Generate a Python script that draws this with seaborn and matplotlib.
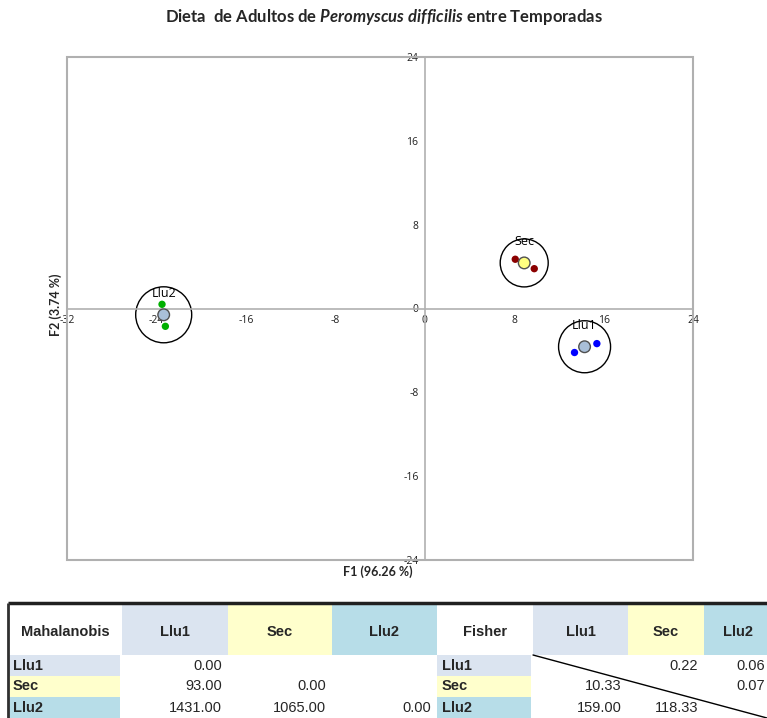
import numpy as np
import pandas as pd
import matplotlib
matplotlib.use("Agg")
import matplotlib.pyplot as plt
from matplotlib.patches import Ellipse, Rectangle
import seaborn as sns

# ---------------- data ----------------
groups = ["Llu1", "Sec", "Llu2"]
obs_group = ["Llu1", "Llu1", "Sec", "Sec", "Llu2", "Llu2"]
obs_f1 = [13.4, 15.4, 8.1, 9.8, -23.5, -23.2]
obs_f2 = [-4.2, -3.35, 4.7, 3.8, 0.4, -1.7]
cent_f1 = [14.3, 8.9, -23.35]
cent_f2 = [-3.65, 4.35, -0.6]
circle_radius_px = [26, 24, 28]
obs_colors = {"Llu1": "#0000ff", "Sec": "#8b0000", "Llu2": "#00b000"}
cent_colors = {"Llu1": "#a9bfd8", "Sec": "#ffff80", "Llu2": "#a9bfd8"}
ticks = [-32, -24, -16, -8, 0, 8, 16, 24]
yticks = [-24, -16, -8, 0, 8, 16, 24]

table_cols = ["Llu1", "Sec", "Llu2"]
mahal = [["0.00", "", ""],
         ["93.00", "0.00", ""],
         ["1431.00", "1065.00", "0.00"]]
fisher = [["", "0.22", "0.06"],
          ["10.33", "", "0.07"],
          ["159.00", "118.33", ""]]
group_bg = {"Llu1": "#dbe4f0", "Sec": "#ffffcc", "Llu2": "#b7dde8"}

# ---------------- figure ----------------
sns.set_style("white")
plt.rcParams["font.family"] = ["Lato", "DejaVu Sans"]
plt.rcParams["mathtext.fontset"] = "custom"
plt.rcParams["mathtext.it"] = "Lato:italic:bold"
plt.rcParams["mathtext.rm"] = "Lato:bold"

W, H = 767, 718
fig = plt.figure(figsize=(W / 100, H / 100), dpi=100)
ax = fig.add_axes([67 / W, 1 - 560 / H, (693 - 67) / W, (560 - 57) / H])
ax.set_xlim(-32, 24)
ax.set_ylim(-24, 24)

obs = pd.DataFrame({"F1": obs_f1, "F2": obs_f2, "g": obs_group})
cen = pd.DataFrame({"F1": cent_f1, "F2": cent_f2, "g": groups})

# confidence circles
sx = 626 / 56.0
sy = 503 / 48.0
for gx, gy, r in zip(cent_f1, cent_f2, circle_radius_px):
    ax.add_patch(Ellipse((gx, gy), 2 * r / sx, 2 * r / sy, fill=False,
                         edgecolor="black", lw=1.0, zorder=2))

sns.scatterplot(data=obs, x="F1", y="F2", hue="g", palette=obs_colors,
                s=28, edgecolor="none", legend=False, ax=ax, zorder=3)
sns.scatterplot(data=cen, x="F1", y="F2", hue="g", palette=cent_colors,
                s=70, edgecolor="#505050", linewidth=1.0, legend=False,
                ax=ax, zorder=4)

for gname, gx, gy in zip(groups, cent_f1, cent_f2):
    ax.annotate(gname, (gx, gy), xytext=(0, 15.5), textcoords="offset points",
                ha="center", va="center", fontsize=9, color="black",
                family=["Open Sans", "DejaVu Sans"], zorder=5)

# axes through origin
for side in ["left", "bottom"]:
    ax.spines[side].set_position(("data", 0))
    ax.spines[side].set_color("#b0b0b0")
    ax.spines[side].set_linewidth(1.2)
for side in ["top", "right"]:
    ax.spines[side].set_visible(False)
ax.add_patch(Rectangle((0, 0), 1, 1, transform=ax.transAxes, fill=False,
                       edgecolor="#b0b0b0", lw=1.5, zorder=1, clip_on=False))
ax.set_xticks(ticks)
ax.set_yticks(yticks)
ax.set_xticklabels([str(t) for t in ticks])
ax.set_yticklabels([str(t) for t in yticks])
ax.tick_params(axis="both", direction="inout", length=5, width=1,
               color="#a0a0a0", labelsize=7.5, pad=2, labelcolor="#202020")
for lab in ax.get_xticklabels() + ax.get_yticklabels():
    lab.set_family(["Open Sans", "DejaVu Sans"])

ax.set_xlabel("F1 (96.26 %)", fontsize=9, fontweight="bold")
ax.set_ylabel("F2 (3.74 %)", fontsize=9, fontweight="bold")
ax.xaxis.set_label_coords((378 - 67) / 626, -(565 - 560) / 503)
ax.yaxis.set_label_coords(-(67 - 62) / 626, (560 - 305) / 503)

fig.text(384 / W, 1 - 17 / H,
         r"Dieta  de Adultos de $Peromyscus\ difficilis$ entre Temporadas",
         ha="center", va="center", fontsize=12, fontweight="bold")

# ---------------- table ----------------
tab = fig.add_axes([0, 0, 1, 1], zorder=10)
tab.set_xlim(0, W)
tab.set_ylim(H, 0)
tab.axis("off")

row_tops = [604, 655, 676, 697]
row_bots = [655, 676, 697, 718]
fam = ["Liberation Sans", "DejaVu Sans"]


def draw_block(x_edges, title, values, diag=False):
    # header row
    for j, x0 in enumerate(x_edges[:-1]):
        x1 = x_edges[j + 1]
        color = "white" if j == 0 else group_bg[table_cols[j - 1]]
        tab.add_patch(Rectangle((x0, row_tops[0]), x1 - x0, row_bots[0] - row_tops[0],
                                facecolor=color, edgecolor="none"))
        txt = title if j == 0 else table_cols[j - 1]
        tab.text((x0 + x1) / 2, (row_tops[0] + row_bots[0]) / 2 + 2, txt,
                 ha="center", va="center", fontsize=10.5, fontweight="bold",
                 family=fam)
    # data rows
    for i in range(3):
        y0, y1 = row_tops[i + 1], row_bots[i + 1]
        x0, x1 = x_edges[0], x_edges[1]
        tab.add_patch(Rectangle((x0, y0), x1 - x0 - 2, y1 - y0,
                                facecolor=group_bg[table_cols[i]], edgecolor="none"))
        tab.text(x0 + 5, (y0 + y1) / 2, table_cols[i], ha="left", va="center",
                 fontsize=10.5, fontweight="bold", family=fam)
        for j in range(3):
            v = values[i][j]
            if v:
                tab.text(x_edges[j + 2] - 6, (y0 + y1) / 2, v, ha="right",
                         va="center", fontsize=10.5, family=fam)
    if diag:
        tab.plot([x_edges[1], 767], [row_tops[1], 718], color="black", lw=1)


draw_block([8, 122, 228, 332, 437], "Mahalanobis", mahal)
draw_block([437, 533, 628, 704, 771], "Fisher", fisher, diag=True)

tab.plot([8, 767], [603, 603], color="#202020", lw=2.5, solid_capstyle="butt")
tab.plot([8, 8], [603, 718], color="#303030", lw=2, solid_capstyle="butt")

fig.savefig("out.png", dpi=100)
